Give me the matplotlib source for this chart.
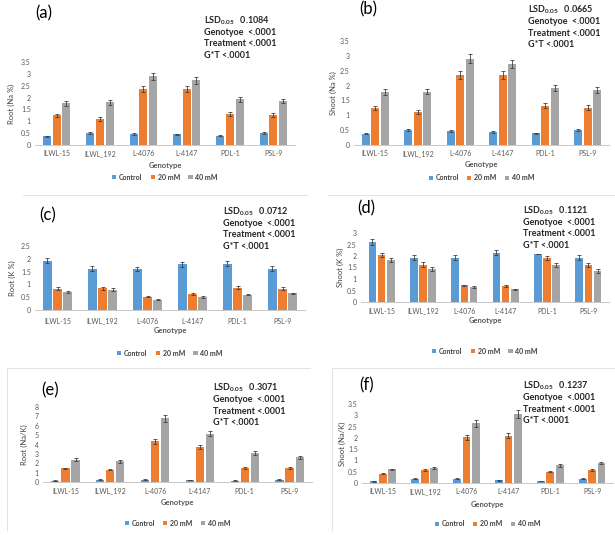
import numpy as np
import matplotlib
matplotlib.use("Agg")
import matplotlib.pyplot as plt
from matplotlib.patches import Patch
from matplotlib.lines import Line2D

plt.rcParams['font.family'] = ['Lato', 'DejaVu Sans']

W, H = 615, 535
genotypes = ["ILWL-15", "ILWL_192", "L-4076", "L-4147", "PDL-1", "PSL-9"]
treatments = ["Control", "20 mM", "40 mM"]
colors = ["#5B9BD5", "#ED7D31", "#A5A5A5"]

# (a) root Na %
a_ctrl = [0.37, 0.50, 0.47, 0.45, 0.40, 0.50]
a_20 = [1.25, 1.10, 2.35, 2.35, 1.30, 1.25]
a_40 = [1.75, 1.80, 2.90, 2.72, 1.92, 1.85]
a_err = [[0.03, 0.03, 0.03, 0.03, 0.03, 0.03],
         [0.07, 0.07, 0.12, 0.12, 0.08, 0.08],
         [0.10, 0.10, 0.14, 0.14, 0.11, 0.10]]
# (b) shoot Na %
b_ctrl = [0.38, 0.50, 0.47, 0.45, 0.40, 0.50]
b_20 = [1.25, 1.12, 2.35, 2.35, 1.32, 1.26]
b_40 = [1.77, 1.80, 2.90, 2.73, 1.92, 1.85]
b_err = [[0.02, 0.03, 0.03, 0.03, 0.02, 0.03],
         [0.07, 0.06, 0.13, 0.13, 0.08, 0.08],
         [0.10, 0.10, 0.15, 0.14, 0.11, 0.11]]
# (c) root K %
c_ctrl = [1.92, 1.62, 1.60, 1.78, 1.80, 1.62]
c_20 = [0.83, 0.84, 0.52, 0.62, 0.87, 0.83]
c_40 = [0.70, 0.80, 0.40, 0.50, 0.60, 0.65]
c_err = [[0.10, 0.08, 0.08, 0.09, 0.10, 0.08],
         [0.06, 0.05, 0.03, 0.05, 0.06, 0.05],
         [0.04, 0.05, 0.02, 0.03, 0.03, 0.03]]
# (d) shoot K %
d_ctrl = [2.60, 1.93, 1.93, 2.15, 2.08, 1.93]
d_20 = [2.05, 1.63, 0.73, 0.70, 1.92, 1.62]
d_40 = [1.83, 1.45, 0.65, 0.55, 1.62, 1.35]
d_err = [[0.14, 0.10, 0.10, 0.12, 0.00, 0.10],
         [0.10, 0.09, 0.03, 0.04, 0.10, 0.09],
         [0.10, 0.09, 0.03, 0.03, 0.09, 0.07]]
# (e) root Na/K
e_ctrl = [0.15, 0.25, 0.25, 0.20, 0.15, 0.25]
e_20 = [1.45, 1.30, 4.35, 3.70, 1.50, 1.50]
e_40 = [2.40, 2.20, 6.80, 5.15, 3.10, 2.65]
e_err = [[0.02, 0.03, 0.03, 0.03, 0.02, 0.03],
         [0.08, 0.07, 0.25, 0.20, 0.09, 0.09],
         [0.13, 0.13, 0.35, 0.28, 0.17, 0.15]]
# (f) shoot Na/K
f_ctrl = [0.07, 0.18, 0.18, 0.13, 0.08, 0.18]
f_20 = [0.42, 0.58, 2.02, 2.10, 0.50, 0.58]
f_40 = [0.60, 0.68, 2.65, 3.07, 0.78, 0.88]
f_err = [[0.01, 0.02, 0.02, 0.02, 0.01, 0.02],
         [0.03, 0.03, 0.11, 0.12, 0.03, 0.03],
         [0.04, 0.04, 0.15, 0.17, 0.05, 0.05]]

lsd = ["0.1084", "0.0665", "0.0712", "0.1121", "0.3071", "0.1237"]


def px(x, y):
    return x / W, 1 - y / H


def panel(fig, x0, x1, ytop, ybot, vals, errs, ymax, ystep, ylabel, ylab_x,
          tag, tag_xy, stats_xy, cat_y, gen_y, leg_y):
    ax = fig.add_axes([x0 / W, 1 - ybot / H, (x1 - x0) / W, (ybot - ytop) / H])
    x = np.arange(len(genotypes))
    for i, (v, e) in enumerate(zip(vals, errs)):
        ax.bar(x + (i - 1) * 0.225, v, 0.185, color=colors[i], yerr=e,
               error_kw=dict(ecolor="#404040", elinewidth=0.6, capsize=1.5, capthick=0.6))
    ax.set_xlim(-0.5, len(genotypes) - 0.5)
    ax.set_ylim(0, ymax)
    ticks = np.arange(0, ymax + 1e-9, ystep)
    ax.set_yticks(ticks)
    ax.set_yticklabels(["%g" % t for t in ticks])
    ax.set_xticks(x)
    ax.set_xticklabels([])
    for s in ["top", "right", "left"]:
        ax.spines[s].set_visible(False)
    ax.spines["bottom"].set_color("#c8c8c8")
    ax.spines["bottom"].set_linewidth(0.7)
    ax.tick_params(axis="both", length=0, labelsize=5, colors="#595959", pad=3)
    for xi, g in zip(x, genotypes):
        xf = ax.transData.transform((xi, 0))[0] / fig.dpi / fig.get_figwidth()
        fig.text(xf, 1 - cat_y / H, g, ha="center", va="center", fontsize=5, color="#595959")
    xc = (x0 + x1) / 2
    fig.text(*px(xc, gen_y), "Genotype", ha="center", va="center", fontsize=5.5,
             fontweight="bold", color="#595959")
    fig.text(*px(ylab_x, (ytop + ybot) / 2), ylabel, rotation=90, ha="center", va="center",
             fontsize=5.5, color="#404040")
    fig.text(*px(*tag_xy), tag, ha="left", va="top", fontsize=12, color="black")
    sx, sy = stats_xy
    lines = [r"LSD$_{\mathregular{0.05}}$   " + lsd["abcdef".index(tag[1])],
             "Genotyoe  <.0001", "Treatment <.0001", "G*T <.0001"]
    for k, t in enumerate(lines):
        fig.text(*px(sx, sy + k * 11.5), t, ha="left", va="center", fontsize=6.5,
                 fontweight="bold", color="#262626")
    handles = [Patch(facecolor=c) for c in colors]
    fig.legend(handles, treatments, loc="center", bbox_to_anchor=px(xc, leg_y), ncol=3,
               frameon=False, prop=dict(size=5, weight="bold"), handlelength=0.6,
               handleheight=0.6, handletextpad=0.4, columnspacing=1.2, labelcolor="#404040")
    return ax


fig = plt.figure(figsize=(W / 100, H / 100), dpi=100)
fig.patch.set_facecolor("white")

panel(fig, 35, 295, 62, 145, [a_ctrl, a_20, a_40], a_err, 3.5, 0.5, "Root (Na %)", 11,
      "(a)", (35, 5), (204, 21), 154, 166, 177)
panel(fig, 354, 609, 41, 145, [b_ctrl, b_20, b_40], b_err, 3.5, 0.5, "Shoot (Na %)", 333,
      "(b)", (359, 1), (528, 10), 154, 164, 178)
panel(fig, 35, 305, 246, 310, [c_ctrl, c_20, c_40], c_err, 2.5, 0.5, "Root (K %)", 12,
      "(c)", (39, 207), (223, 212), 321, 331, 353)
panel(fig, 361, 609, 233, 302, [d_ctrl, d_20, d_40], d_err, 3.0, 0.5, "Shoot (K %)", 340,
      "(d)", (357, 200), (523, 211), 311, 321, 351)
panel(fig, 43, 312, 407, 482, [e_ctrl, e_20, e_40], e_err, 8, 1, "Root (Na/K)", 24,
      "(e)", (41, 382), (213, 388), 491, 502, 523)
panel(fig, 362, 613, 404, 483, [f_ctrl, f_20, f_40], f_err, 3.5, 0.5, "Shoot (Na/K)", 342,
      "(f)", (359, 377), (523, 386), 492, 504, 524)

# faint panel borders from the original collage
border = dict(color="#e3e3e3", linewidth=0.7, transform=fig.transFigure)
fig.add_artist(Line2D([23 / W, 307 / W], [1 - 195 / H] * 2, **border))
fig.add_artist(Line2D([328 / W, 615 / W], [1 - 195 / H] * 2, **border))
fig.add_artist(Line2D([7 / W, 310 / W], [1 - 368 / H] * 2, **border))
fig.add_artist(Line2D([7 / W, 7 / W], [1 - 368 / H, 1 - 530 / H], **border))
fig.add_artist(Line2D([332 / W, 615 / W], [1 - 368 / H] * 2, **border))
fig.add_artist(Line2D([332 / W, 332 / W], [1 - 368 / H, 1 - 530 / H], **border))

fig.savefig("out.png", dpi=100)
